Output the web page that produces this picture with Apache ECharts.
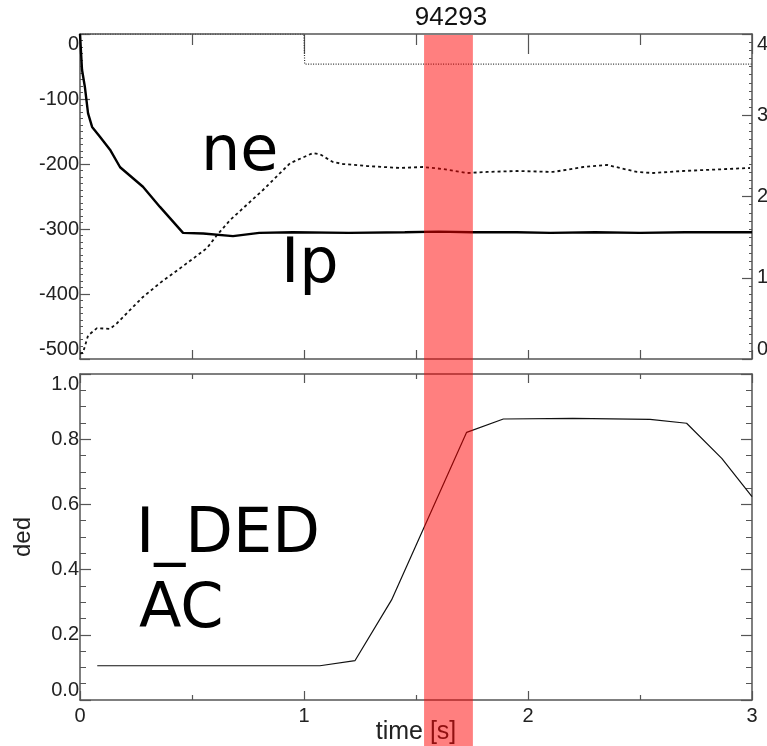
<!DOCTYPE html>
<html>
<head>
<meta charset="utf-8">
<script src="https://cdn.jsdelivr.net/npm/echarts@6/dist/echarts.min.js"></script>
<style>html,body{margin:0;padding:0;background:#fff;}#c{width:767px;height:746px;}</style>
</head>
<body>
<div id="c"></div>
<script>
// ---- data ----
const shotTitle = '94293';
const ipTime = [0, 0.009, 0.022, 0.036, 0.054, 0.089, 0.134, 0.179, 0.281, 0.357, 0.46, 0.55, 0.683, 0.8, 0.95, 1.2, 1.45, 1.6, 1.75, 1.95, 2.1, 2.3, 2.5, 2.7, 2.9, 3.0];
const ipVal  = [0, -55, -82, -122, -143, -158, -178, -205, -235, -266, -306, -307, -311, -306, -305, -306, -305, -304, -305, -305, -306, -305, -306, -305, -305, -305];
const neTime = [0, 0.013, 0.036, 0.076, 0.134, 0.165, 0.21, 0.281, 0.357, 0.478, 0.567, 0.612, 0.67, 0.817, 0.938, 1.04, 1.071, 1.129, 1.174, 1.281, 1.429, 1.531, 1.621, 1.728, 1.817, 1.951, 2.112, 2.246, 2.353, 2.411, 2.487, 2.558, 2.692, 2.991];
const neVal  = [0.07, 0.074, 0.29, 0.38, 0.37, 0.44, 0.566, 0.763, 0.935, 1.18, 1.366, 1.526, 1.71, 2.08, 2.41, 2.535, 2.52, 2.425, 2.40, 2.375, 2.351, 2.363, 2.338, 2.289, 2.302, 2.314, 2.302, 2.363, 2.388, 2.351, 2.302, 2.289, 2.314, 2.351];
const refTime = [0, 1.0, 1.003, 3.0];
const refVal  = [4.0, 4.0, 3.63, 3.63];
const dedTime = [0.077, 1.071, 1.228, 1.391, 1.726, 1.890, 2.2, 2.545, 2.708, 2.865, 3.0];
const dedVal  = [0.105, 0.105, 0.121, 0.307, 0.821, 0.862, 0.864, 0.861, 0.849, 0.741, 0.624];
const bandRange = [1.536, 1.754];
const ipTicks = [-500, 0, 100];
const neTicks = [0, 4, 1];
const dedTicks = [0, 1, 0.2];
const timeTicks = [0, 3, 1];

const zip = (a, b) => a.map((v, i) => [v, b[i]]);

const FRAME = '#555';
const LBL = {fontFamily: 'Liberation Sans', fontSize: 20, color: '#222'};
const axLine = {show: true, onZero: false, lineStyle: {color: FRAME, width: 1.5}};

function xAx(grid, pos, showLabel, tickLen, minorLen, extra) {
  return Object.assign({
    type: 'value', gridIndex: grid, position: pos,
    min: timeTicks[0], max: timeTicks[1], interval: timeTicks[2],
    axisLine: axLine,
    axisTick: {show: true, inside: true, length: tickLen, lineStyle: {color: FRAME, width: 1.2}},
    minorTick: {show: true, splitNumber: 2, length: minorLen, lineStyle: {color: FRAME, width: 1.2}},
    splitLine: {show: false}, minorSplitLine: {show: false},
    axisLabel: Object.assign({show: showLabel, margin: 6}, LBL)
  }, extra || {});
}
function yAx(grid, pos, ticks, showLabel, tickLen, minorSplit, minorLen, extra) {
  return Object.assign({
    type: 'value', gridIndex: grid, position: pos,
    min: ticks[0], max: ticks[1], interval: ticks[2],
    axisLine: axLine,
    axisTick: {show: true, inside: true, length: tickLen, lineStyle: {color: FRAME, width: 1.2}},
    minorTick: {show: true, splitNumber: minorSplit, length: minorLen, lineStyle: {color: FRAME, width: 1}},
    splitLine: {show: false}, minorSplitLine: {show: false},
    axisLabel: Object.assign({show: showLabel, margin: pos === 'left' ? 1 : 5, verticalAlignMinLabel: 'bottom', verticalAlignMaxLabel: 'top'}, LBL)
  }, extra || {});
}

const chart = echarts.init(document.getElementById('c'), null, {renderer: 'canvas'});
const option = {
  animation: false,
  backgroundColor: '#fff',
  grid: [
    {left: 80, right: 15, top: 34, height: 325, containLabel: false, outerBoundsMode: 'none'},
    {left: 80, right: 15, top: 374, height: 326, containLabel: false, outerBoundsMode: 'none'}
  ],
  xAxis: [
    xAx(0, 'bottom', false, 9, 9),
    xAx(0, 'top', false, 20, 11),
    xAx(1, 'bottom', true, 9, 5, {name: 'time [s]', nameLocation: 'middle', nameGap: 20, nameMoveOverlap: false,
      nameTextStyle: {fontFamily: 'Liberation Sans', fontSize: 25, color: '#222', verticalAlign: 'top'}}),
    xAx(1, 'top', false, 9, 5)
  ],
  yAxis: [
    yAx(0, 'left', ipTicks, true, 10, 10, 3),
    yAx(0, 'right', neTicks, true, 10, 10, 3),
    yAx(1, 'left', dedTicks, true, 11, 4, 6, {name: 'ded', nameLocation: 'middle', nameGap: 45, nameMoveOverlap: false,
      nameRotate: 90, nameTextStyle: {fontFamily: 'Liberation Sans', fontSize: 24, color: '#222'},
      axisLabel: Object.assign({show: true, margin: 1, verticalAlignMinLabel: 'bottom', verticalAlignMaxLabel: 'top',
        formatter: v => v.toFixed(1)}, LBL)}),
    yAx(1, 'right', dedTicks, false, 11, 4, 6)
  ],
  series: [
    {type: 'line', xAxisIndex: 0, yAxisIndex: 1, data: zip(refTime, refVal), symbol: 'none',
     lineStyle: {color: '#333', width: 1.2, type: [1, 1.5]}},
    {type: 'line', xAxisIndex: 0, yAxisIndex: 1, data: zip(neTime, neVal), symbol: 'none',
     lineStyle: {color: '#111', width: 1.8, type: [3, 3]}},
    {type: 'line', xAxisIndex: 0, yAxisIndex: 0, data: zip(ipTime, ipVal), symbol: 'none',
     lineStyle: {color: '#000', width: 2.4}},
    {type: 'line', xAxisIndex: 2, yAxisIndex: 2, data: zip(dedTime, dedVal), symbol: 'none',
     lineStyle: {color: '#111', width: 1.2}}
  ]
};
chart.setOption(option);

const bx0 = chart.convertToPixel({xAxisIndex: 2}, bandRange[0]);
const bx1 = chart.convertToPixel({xAxisIndex: 2}, bandRange[1]);
const topY = chart.convertToPixel({yAxisIndex: 1}, neTicks[1]);
chart.setOption({
  graphic: [
    {type: 'text', x: 451, y: 18, style: {text: shotTitle, font: '26px "Liberation Sans"', fill: '#111', align: 'center', verticalAlign: 'middle'}},
    {type: 'text', x: 201, y: 154, style: {text: 'ne', font: '62px "DejaVu Sans"', fill: '#000', align: 'left', verticalAlign: 'middle'}},
    {type: 'text', x: 281, y: 266, style: {text: 'Ip', font: '62px "DejaVu Sans"', fill: '#000', align: 'left', verticalAlign: 'middle'}},
    {type: 'text', x: 136, y: 536, style: {text: 'I_DED', font: '62px "DejaVu Sans"', fill: '#000', align: 'left', verticalAlign: 'middle'}},
    {type: 'text', x: 139, y: 611, style: {text: 'AC', font: '62px "DejaVu Sans"', fill: '#000', align: 'left', verticalAlign: 'middle'}},
    {type: 'rect', z: 100, shape: {x: bx0, y: topY + 1, width: bx1 - bx0, height: 746 - topY}, style: {fill: 'rgba(255,0,0,0.5)'}}
  ]
});
</script>
</body>
</html>
